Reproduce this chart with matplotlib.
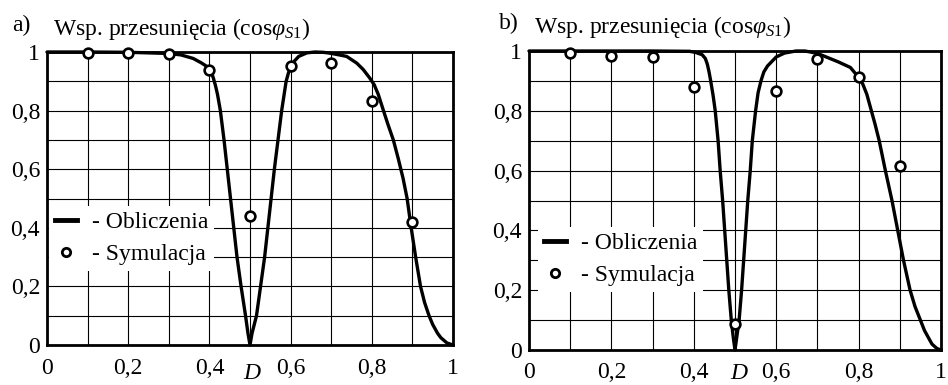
import matplotlib
matplotlib.use('Agg')
import matplotlib.pyplot as plt
from matplotlib.lines import Line2D

plt.rcParams['font.family'] = ['Liberation Serif', 'DejaVu Serif']
plt.rcParams['mathtext.fontset'] = 'custom'
plt.rcParams['mathtext.rm'] = 'Liberation Serif'
plt.rcParams['mathtext.it'] = 'Liberation Serif:italic'

FS = 17

# a) krzywa obliczona cos(phi_S1) w funkcji D
d_calc_a = [0.0, 0.1, 0.2, 0.3, 0.33, 0.36, 0.38, 0.40, 0.405, 0.41, 0.415,
            0.42, 0.427, 0.436, 0.444, 0.452, 0.460, 0.468, 0.478, 0.489,
            0.495, 0.5,
            0.505, 0.516, 0.526, 0.536, 0.544, 0.552, 0.560, 0.569, 0.578,
            0.589, 0.595, 0.602, 0.61, 0.62, 0.64, 0.66, 0.68, 0.697, 0.72,
            0.738, 0.763, 0.779, 0.795, 0.806, 0.816, 0.828, 0.840, 0.853,
            0.865, 0.877, 0.887, 0.897, 0.908, 0.920, 0.93, 0.941, 0.95,
            0.962, 0.97, 0.985, 1.0]
cos_calc_a = [1.0, 1.0, 0.999, 0.995, 0.99, 0.978, 0.963, 0.945, 0.93, 0.91,
              0.885, 0.855, 0.8, 0.7, 0.6, 0.5, 0.4, 0.3, 0.2, 0.1,
              0.04, 0.0,
              0.04, 0.1, 0.2, 0.3, 0.4, 0.5, 0.6, 0.7, 0.8,
              0.9, 0.93, 0.95, 0.97, 0.985, 0.997, 1.0, 0.999, 0.996, 0.99,
              0.985, 0.962, 0.94, 0.911, 0.888, 0.855, 0.803, 0.752, 0.7,
              0.637, 0.569, 0.5, 0.4, 0.3, 0.2, 0.145, 0.1, 0.07,
              0.04, 0.025, 0.007, 0.0]

# b) krzywa obliczona
d_calc_b = [0.0, 0.3, 0.39, 0.405, 0.415, 0.42, 0.428, 0.433, 0.437, 0.441,
            0.447, 0.452, 0.459, 0.464, 0.470, 0.475, 0.480, 0.485, 0.491,
            0.496, 0.5,
            0.504, 0.51, 0.516, 0.521, 0.526, 0.531, 0.537, 0.542, 0.550,
            0.556, 0.563, 0.570, 0.579, 0.6, 0.62, 0.648, 0.67, 0.70, 0.75,
            0.78, 0.8, 0.81, 0.82, 0.83, 0.84, 0.85, 0.865, 0.881, 0.895,
            0.909, 0.925, 0.937, 0.95, 0.96, 0.97, 0.978, 0.99, 1.0]
cos_calc_b = [1.0, 1.0, 0.999, 0.995, 0.99, 0.988, 0.975, 0.955, 0.93, 0.9,
              0.85, 0.8, 0.7, 0.6, 0.5, 0.4, 0.3, 0.2, 0.1,
              0.04, 0.0,
              0.04, 0.1, 0.2, 0.3, 0.4, 0.5, 0.6, 0.7, 0.8,
              0.86, 0.9, 0.93, 0.95, 0.98, 0.993, 1.0, 1.0, 0.992, 0.964,
              0.945, 0.912, 0.89, 0.855, 0.805, 0.755, 0.7, 0.6, 0.5, 0.4,
              0.3, 0.2, 0.145, 0.1, 0.065, 0.04, 0.02, 0.005, 0.0]

# wyniki symulacji
d_sim = [0.1, 0.2, 0.3, 0.4, 0.5, 0.6, 0.7, 0.8, 0.9]
cos_sim_a = [0.997, 0.996, 0.994, 0.94, 0.44, 0.952, 0.963, 0.832, 0.419]
cos_sim_b = [0.992, 0.982, 0.98, 0.88, 0.087, 0.867, 0.972, 0.912, 0.616]

tick_pos = [0, 0.2, 0.4, 0.6, 0.8, 1]
tick_labels = ['0', '0,2', '0,4', '0,6', '0,8', '1']
minor_pos = [0.1, 0.3, 0.5, 0.7, 0.9]
legend_labels = ['- Obliczenia', '- Symulacja']
title = r'Wsp. przesunięcia (cos$\varphi_{S\mathrm{1}}$)'


def draw_panel(ax, d_calc, cos_calc, cos_sim, legend_anchor):
    """Rysuje jeden panel: krzywa obliczona + punkty symulacji."""
    ax.set_xlim(0, 1)
    ax.set_ylim(0, 1)
    ax.set_xticks(tick_pos)
    ax.set_xticklabels(tick_labels)
    ax.set_yticks(tick_pos)
    ax.set_yticklabels(tick_labels)
    ax.set_xticks(minor_pos, minor=True)
    ax.set_yticks(minor_pos, minor=True)
    ax.grid(True, which='both', color='black', linewidth=0.8)
    ax.tick_params(which='both', length=0, labelsize=FS)
    ax.tick_params(axis='x', pad=9)
    ax.tick_params(axis='y', pad=5)
    for sp in ax.spines.values():
        sp.set_linewidth(2)

    ax.plot(d_calc, cos_calc, color='black', linewidth=2.4,
            solid_joinstyle='round', solid_capstyle='round',
            clip_on=False, zorder=4)
    ax.plot(d_sim, cos_sim, linestyle='none', marker='o', markersize=7,
            markerfacecolor='white', markeredgecolor='black',
            markeredgewidth=1.9, clip_on=False, zorder=6)

    handles = [Line2D([], [], color='black', linewidth=3.5),
               Line2D([], [], linestyle='none', marker='o', markersize=6,
                      markerfacecolor='white', markeredgecolor='black',
                      markeredgewidth=2)]
    ax.legend(handles, legend_labels, loc='upper left',
              bbox_to_anchor=legend_anchor, frameon=True, fancybox=False,
              framealpha=1, facecolor='white', edgecolor='none',
              borderaxespad=0, borderpad=0.25, handlelength=0.95,
              handletextpad=0.6, labelspacing=0.44, fontsize=FS)


fig = plt.figure(figsize=(9.48, 3.85), dpi=100)
ax_a = fig.add_axes([47 / 948, 1 - 345 / 385, 406 / 948, 293 / 385])
ax_b = fig.add_axes([529 / 948, 1 - 350 / 385, 412 / 948, 299 / 385])

draw_panel(ax_a, d_calc_a, cos_calc_a, cos_sim_a, (0.005, 0.476))
draw_panel(ax_b, d_calc_b, cos_calc_b, cos_sim_b, (0.022, 0.413))

# os D pod kazdym panelem
fig.text(252 / 948, 1 - 384 / 385, 'D', fontsize=FS, style='italic',
         ha='center', va='bottom')
fig.text(739 / 948, 1 - 384 / 385, 'D', fontsize=FS, style='italic',
         ha='center', va='bottom')

fig.text(12 / 948, 1 - 31 / 385, 'a)', fontsize=FS, va='baseline')
fig.text(53 / 948, 1 - 35 / 385, title, fontsize=FS, va='baseline')
fig.text(499 / 948, 1 - 29 / 385, 'b)', fontsize=FS, va='baseline')
fig.text(534 / 948, 1 - 33 / 385, title, fontsize=FS, va='baseline')

fig.savefig('out.png', dpi=100)
